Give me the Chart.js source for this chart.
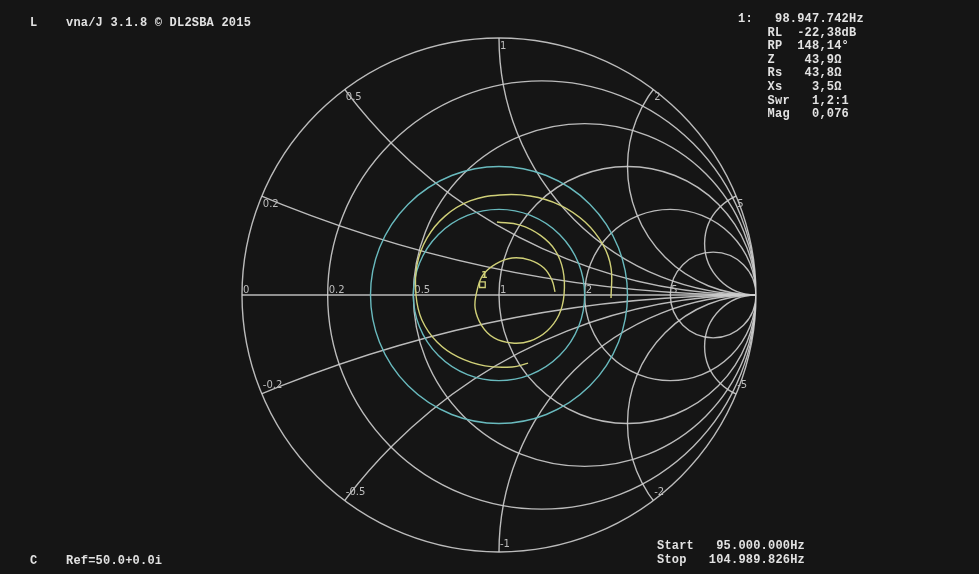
<!DOCTYPE html>
<html>
<head>
<meta charset="utf-8">
<script src="https://cdn.jsdelivr.net/npm/chart.js@4.4.1/dist/chart.umd.min.js"></script>
<style>
html, body { margin: 0; padding: 0; background: #151515; overflow: hidden; }
#wrap { position: relative; width: 979px; height: 574px; }
canvas { position: absolute; left: 0; top: 0; }
.txt { position: absolute; margin: 0; font: bold 12px "Liberation Mono", monospace; letter-spacing: 0.2px;
       color: #e2e2e2; line-height: 13.6px; white-space: pre; }
</style>
</head>
<body>
<div id="wrap">
<canvas id="smith" width="979" height="574"></canvas>
<pre class="txt" style="left:30px;top:17px">L</pre>
<pre class="txt" style="left:66px;top:17px">vna/J 3.1.8 © DL2SBA 2015</pre>
<pre class="txt" id="readout" style="left:738px;top:13px"></pre>
<pre class="txt" style="left:30px;top:555px">C</pre>
<pre class="txt" style="left:66px;top:555px">Ref=50.0+0.0i</pre>
<pre class="txt" style="left:657px;top:540px">Start   95.000.000Hz
Stop   104.989.826Hz</pre>
</div>
<script>
// grille de l'abaque
const resistanceCircles = [0.2, 0.5, 1, 2, 5];
const resistanceLabels = ["0", "0.2", "0.5", "1", "2", "5"];
const reactanceArcs = [0.2, 0.5, 1, 2, 5];
const reactanceLabels = ["0.2", "0.5", "1", "2", "5"];
const swrCircles = [2, 3];

// marqueur 1 (valeurs lues dans l'affichage)
const markerMag = 0.076;
const markerPhase = 148.14;
const readoutLines = [
    "1:   98.947.742Hz",
    "    RL  -22,38dB",
    "    RP  148,14°",
    "    Z    43,9Ω",
    "    Rs   43,8Ω",
    "    Xs    3,5Ω",
    "    Swr   1,2:1",
    "    Mag   0,076"
];

// trace (coefficient de réflexion, partie réelle / imaginaire)
const outerRe = [0.436, 0.436, 0.405, 0.335, 0.237, 0.121, 0.004, -0.113, -0.210, -0.280, -0.319, -0.323, -0.300, -0.241, -0.160, -0.054, 0.051, 0.113];
const outerIm = [-0.012, 0.105, 0.195, 0.284, 0.350, 0.385, 0.389, 0.366, 0.307, 0.222, 0.117, 0.000, -0.097, -0.183, -0.241, -0.276, -0.280, -0.265];
const innerRe = [-0.008, 0.082, 0.160, 0.218, 0.249, 0.253, 0.233, 0.187, 0.121, 0.051, -0.019, -0.066, -0.093, -0.085, -0.062, -0.012, 0.051, 0.121, 0.175, 0.206, 0.218];
const innerIm = [0.284, 0.272, 0.233, 0.175, 0.097, 0.000, -0.078, -0.140, -0.179, -0.187, -0.167, -0.121, -0.051, 0.019, 0.078, 0.121, 0.144, 0.136, 0.105, 0.058, 0.012];

document.getElementById("readout").textContent = readoutLines.join("\n");

const GRID = "rgba(205, 205, 205, 0.9)";
const CYAN = "rgb(105, 186, 190)";
const YELLOW = "rgb(208, 208, 120)";

function toPoints(re, im) {
    return re.map((v, i) => ({ x: v, y: im[i] }));
}

const markerPoint = {
    x: markerMag * Math.cos(markerPhase * Math.PI / 180),
    y: markerMag * Math.sin(markerPhase * Math.PI / 180)
};

const smithGrid = {
    id: "smithGrid",
    beforeDraw(chart) {
        const ctx = chart.ctx;
        ctx.save();
        ctx.fillStyle = "#151515";
        ctx.fillRect(0, 0, chart.width, chart.height);
        ctx.restore();
    },
    beforeDatasetsDraw(chart) {
        const { ctx, scales } = chart;
        const sx = scales.x, sy = scales.y;
        const px = (v) => sx.getPixelForValue(v);
        const py = (v) => sy.getPixelForValue(v);
        const len = (d) => px(d) - px(0);
        const cx = px(0), cy = py(0), R = len(1);

        ctx.save();
        ctx.lineWidth = 1.4;
        ctx.strokeStyle = GRID;

        // tout ce qui est dans le cercle unité
        ctx.save();
        ctx.beginPath();
        ctx.arc(cx, cy, R, 0, Math.PI * 2);
        ctx.clip();

        ctx.beginPath();
        ctx.moveTo(px(-1), cy);
        ctx.lineTo(px(1), cy);
        ctx.stroke();

        resistanceCircles.forEach(r => {
            ctx.beginPath();
            ctx.arc(px(r / (1 + r)), cy, len(1 / (1 + r)), 0, Math.PI * 2);
            ctx.stroke();
        });

        reactanceArcs.forEach(x => {
            [x, -x].forEach(v => {
                ctx.beginPath();
                ctx.arc(px(1), py(1 / v), len(1 / x), 0, Math.PI * 2);
                ctx.stroke();
            });
        });
        ctx.restore();

        // cercle extérieur
        ctx.beginPath();
        ctx.arc(cx, cy, R, 0, Math.PI * 2);
        ctx.stroke();

        // cercles de ROS
        ctx.strokeStyle = CYAN;
        swrCircles.forEach(s => {
            ctx.beginPath();
            ctx.arc(cx, cy, len((s - 1) / (s + 1)), 0, Math.PI * 2);
            ctx.stroke();
        });

        // étiquettes
        ctx.fillStyle = "#bdbdbd";
        ctx.font = "10px 'DejaVu Sans'";
        ctx.textAlign = "left";
        ctx.textBaseline = "bottom";
        [0].concat(resistanceCircles).forEach((r, i) => {
            ctx.fillText(resistanceLabels[i], px((r - 1) / (r + 1)) + 1, cy);
        });
        reactanceArcs.forEach((x, i) => {
            const gr = (x * x - 1) / (x * x + 1);
            const gi = 2 * x / (x * x + 1);
            ctx.textBaseline = "top";
            ctx.fillText(reactanceLabels[i], px(gr) + 1, py(gi) + 3);
            ctx.textBaseline = "bottom";
            ctx.fillText("-" + reactanceLabels[i], px(gr) + 1, py(-gi) - 3);
        });
        ctx.restore();
    },
    afterDatasetsDraw(chart) {
        const { ctx, scales } = chart;
        ctx.save();
        ctx.fillStyle = YELLOW;
        ctx.font = "bold 9px 'DejaVu Sans'";
        ctx.textAlign = "center";
        ctx.textBaseline = "bottom";
        ctx.fillText("1", scales.x.getPixelForValue(markerPoint.x) + 2, scales.y.getPixelForValue(markerPoint.y) - 5);
        ctx.restore();
    }
};

new Chart(document.getElementById("smith"), {
    type: "scatter",
    data: {
        datasets: [
            {
                label: "trace externe",
                data: toPoints(outerRe, outerIm),
                showLine: true,
                borderColor: YELLOW,
                borderWidth: 1.4,
                pointRadius: 0,
                tension: 0.4
            },
            {
                label: "trace interne",
                data: toPoints(innerRe, innerIm),
                showLine: true,
                borderColor: YELLOW,
                borderWidth: 1.4,
                pointRadius: 0,
                tension: 0.4
            },
            {
                label: "marqueur 1",
                data: [markerPoint],
                pointStyle: "rect",
                pointRadius: 4,
                borderColor: YELLOW,
                backgroundColor: "rgba(0,0,0,0)",
                borderWidth: 1.3
            }
        ]
    },
    options: {
        responsive: false,
        animation: false,
        devicePixelRatio: 1,
        layout: { padding: { left: 242, right: 223, top: 38, bottom: 22 } },
        plugins: {
            legend: { display: false },
            tooltip: { enabled: false }
        },
        scales: {
            x: { type: "linear", min: -1, max: 1, display: false },
            y: { type: "linear", min: -1, max: 1, display: false }
        }
    },
    plugins: [smithGrid]
});
</script>
</body>
</html>
